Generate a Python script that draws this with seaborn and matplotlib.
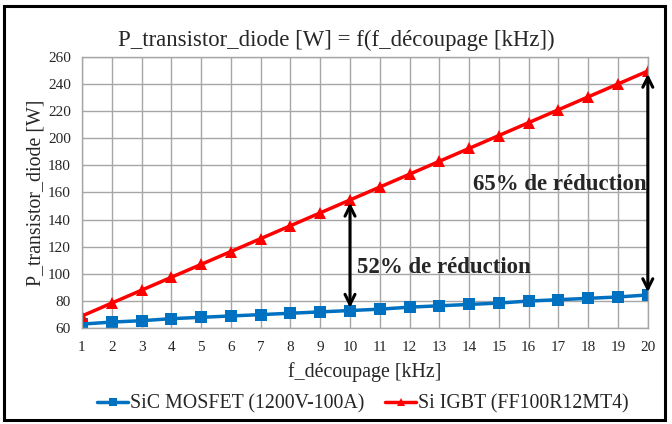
import matplotlib
matplotlib.use("Agg")
import matplotlib.pyplot as plt
import seaborn as sns
import pandas as pd
from matplotlib.patches import Rectangle

freq = list(range(1, 21))
sic = [63, 64.5, 65.5, 67, 68, 69, 70, 71, 72, 73, 74, 75.5, 76.5, 77.5, 78.5, 80, 81, 82, 83, 84.5]
si = [69, 78.5, 88, 97.5, 107, 116.5, 126, 135.5, 145, 154.5, 164, 173.5, 183, 192.5, 202, 211.5, 221, 230.5, 240, 249.5]
series_names = ["SiC MOSFET (1200V-100A)", "Si IGBT (FF100R12MT4)"]
title = "P_transistor_diode [W] = f(f_découpage [kHz])"
xlabel = "f_découpage [kHz]"
ylabel = "P_transistor_diode [W]"
annot1 = "52% de réduction"
annot2 = "65% de réduction"

df = pd.DataFrame({
    "f": freq * 2,
    "P": sic + si,
    "serie": [series_names[0]] * len(freq) + [series_names[1]] * len(freq),
})

sns.set_style("white")
plt.rcParams["font.family"] = ["Liberation Serif", "DejaVu Serif"]

fig = plt.figure(figsize=(6.72, 4.24), dpi=100)
ax = fig.add_axes([0.122, 0.226, 0.842, 0.64])

palette = {series_names[0]: "#0070C0", series_names[1]: "#FF0000"}
markers = {series_names[0]: "s", series_names[1]: "^"}
sns.lineplot(data=df, x="f", y="P", hue="serie", style="serie", palette=palette,
             markers=markers, dashes=False, linewidth=2.5, markersize=8,
             markeredgewidth=0, ax=ax, legend=True)

ax.set_xlim(1, 20)
ax.set_ylim(60, 260)
ax.set_xticks(freq)
ax.set_yticks(range(60, 261, 20))
ax.grid(True, color="#A6A6A6", linewidth=1)
ax.set_axisbelow(True)
for s in ax.spines.values():
    s.set_color("#A6A6A6")
    s.set_linewidth(1)
ax.tick_params(axis="both", which="both", length=4, color="#A6A6A6", labelsize=11, pad=4)
ax.tick_params(axis="x", pad=5)
ax.set_xlabel(xlabel, fontsize=14.3, labelpad=6)
ax.set_ylabel(ylabel, fontsize=14.3, labelpad=2)
fig.text(0.5, 0.905, title, ha="center", va="center", fontsize=16.4)

# arrows
ax.annotate("", xy=(10, si[9]), xytext=(10, sic[9]),
            arrowprops=dict(arrowstyle="<->", color="black", lw=2.2, mutation_scale=18))
ax.annotate("", xy=(20, si[19]), xytext=(20, sic[19]),
            arrowprops=dict(arrowstyle="<->", color="black", lw=2.2, mutation_scale=18))
ax.text(10.25, 105, annot1, fontsize=16.5, fontweight="bold", ha="left", va="center")
ax.text(19.95, 166, annot2, fontsize=16.5, fontweight="bold", ha="right", va="center")

handles, labels = ax.get_legend_handles_labels()
ax.get_legend().remove()
fig.legend(handles, labels, loc="center", bbox_to_anchor=(0.54, 0.047), ncol=2,
           frameon=False, fontsize=14.3, handlelength=1.6, handletextpad=0.1,
           columnspacing=1.0, markerscale=0.8)

fig.add_artist(Rectangle((0.006, 0.01), 0.983, 0.976, transform=fig.transFigure,
                         fill=False, edgecolor="black", linewidth=2.2))

fig.savefig("out.png", dpi=100)
